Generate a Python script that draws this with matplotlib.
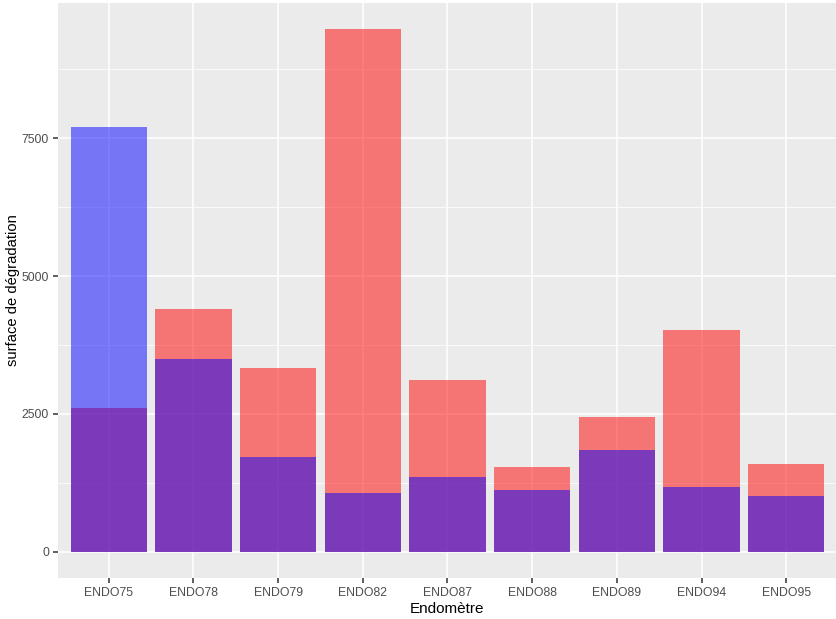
import numpy as np
import matplotlib.pyplot as plt

plt.rcParams["font.family"] = ["Liberation Sans", "DejaVu Sans"]

# ---------------- DATA ----------------
samples = ["ENDO75", "ENDO78", "ENDO79", "ENDO82", "ENDO87",
           "ENDO88", "ENDO89", "ENDO94", "ENDO95"]
red_vals = [2610, 4400, 3330, 9475, 3115, 1540, 2445, 4020, 1595]
blue_vals = [7700, 3495, 1720, 1070, 1360, 1125, 1848, 1180, 1015]
y_ticks = [0, 2500, 5000, 7500]
y_minor = [1250, 3750, 6250, 8750]
# --------------------------------------

fig = plt.figure(figsize=(8.37, 6.19), dpi=100)
ax = fig.add_axes([58/837, 1 - 578/619, 779/837, 575/619])
ax.set_facecolor("#EBEBEB")

x = np.arange(1, len(samples) + 1)
ymax = max(max(red_vals), max(blue_vals))

# grid (ggplot style)
for v in y_minor:
    ax.axhline(v, color="white", lw=0.55, zorder=0)
for v in y_ticks:
    ax.axhline(v, color="white", lw=1.1, zorder=0)
for xi in x:
    ax.axvline(xi, color="white", lw=1.1, zorder=0)

ax.bar(x, red_vals, width=0.9, color="red", alpha=0.5, zorder=2)
ax.bar(x, blue_vals, width=0.9, color="blue", alpha=0.5, zorder=3)

ax.set_xlim(0.4, len(samples) + 0.6)
ax.set_ylim(-0.05 * ymax, 1.05 * ymax)
ax.set_xticks(x)
ax.set_xticklabels(samples)
ax.set_yticks(y_ticks)
ax.set_yticklabels([str(v) for v in y_ticks])

for s in ax.spines.values():
    s.set_visible(False)
ax.tick_params(axis="both", colors="#333333", labelcolor="#4D4D4D",
               labelsize=8.8, length=3.5, width=1.1, pad=3)

ax.set_xlabel("Endomètre", fontsize=11, color="black", labelpad=2)
ax.set_ylabel("surface de dégradation", fontsize=10.6, color="black")
ax.yaxis.set_label_coords(-0.0488, 0.5)

plt.savefig("out.png", dpi=100)
